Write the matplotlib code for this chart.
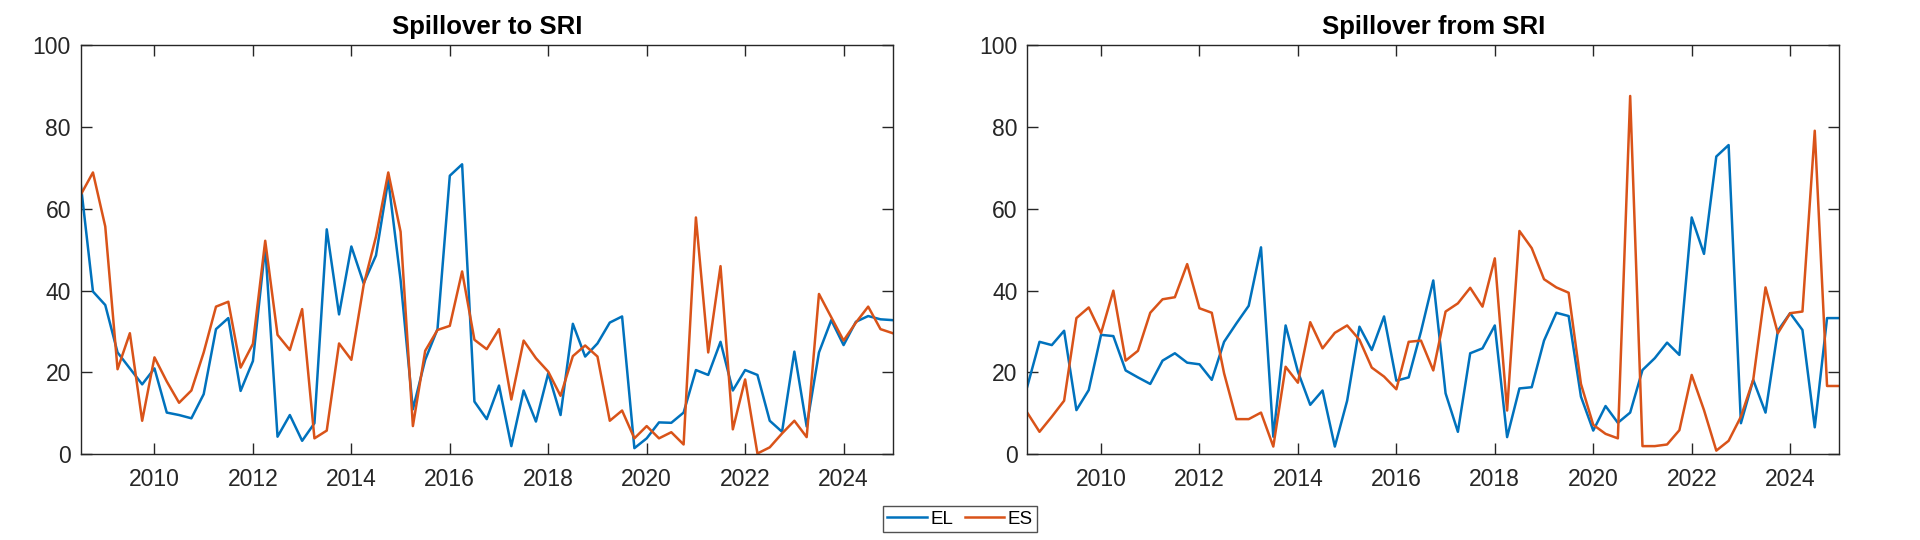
import numpy as np
import matplotlib
matplotlib.use('Agg')
import matplotlib.pyplot as plt

plt.rcParams['font.family'] = ['Liberation Sans', 'DejaVu Sans']

# quarterly observations, 2008Q3 .. 2025Q1
years = 2008.5 + 0.25 * np.arange(67)

# spillover to SRI
to_el = [66.3, 39.8, 36.5, 24.9, 21.0, 17.1, 21.0, 10.2, 9.6, 8.8,
         14.7, 30.6, 33.3, 15.5, 22.8, 50.8, 4.3, 9.6, 3.3, 7.6,
         55.0, 34.2, 50.8, 41.8, 48.6, 67.1, 42.6, 11.0, 23.1, 30.6,
         68.1, 70.9, 12.9, 8.6, 16.8, 2.0, 15.6, 8.0, 19.8, 9.6,
         31.9, 23.9, 27.1, 32.2, 33.7, 1.5, 3.9, 7.8, 7.7, 10.2,
         20.6, 19.4, 27.5, 15.6, 20.6, 19.4, 8.2, 5.5, 25.1, 6.8,
         24.9, 32.8, 26.7, 32.4, 33.8, 33.0, 32.8]
to_es = [63.4, 68.9, 55.7, 20.8, 29.6, 8.2, 23.7, 17.8, 12.6, 15.6,
         24.9, 36.1, 37.3, 21.2, 27.0, 52.2, 29.2, 25.5, 35.5, 3.9,
         5.8, 27.1, 23.1, 41.4, 53.2, 68.9, 54.4, 6.9, 25.3, 30.4,
         31.4, 44.7, 28.0, 25.7, 30.6, 13.4, 27.8, 23.5, 20.2, 14.3,
         24.0, 26.6, 23.9, 8.2, 10.7, 3.9, 6.9, 3.9, 5.4, 2.4,
         57.9, 24.9, 46.0, 6.1, 18.3, 0.2, 1.7, 5.1, 8.2, 4.2,
         39.2, 33.5, 27.8, 32.2, 36.1, 30.6, 29.6]

# spillover from SRI
from_el = [16.5, 27.5, 26.7, 30.2, 10.8, 15.7, 29.2, 28.9, 20.5, 18.8,
           17.2, 22.9, 24.7, 22.4, 22.0, 18.2, 27.5, 32.0, 36.3, 50.6,
           4.3, 31.5, 20.2, 12.1, 15.6, 1.9, 13.1, 31.2, 25.5, 33.7,
           18.0, 18.8, 30.0, 42.5, 14.9, 5.5, 24.7, 25.9, 31.5, 4.2,
           16.1, 16.4, 27.8, 34.6, 33.8, 14.1, 5.8, 11.8, 7.7, 10.2,
           20.6, 23.5, 27.3, 24.3, 57.9, 49.0, 72.8, 75.6, 7.6, 18.2,
           10.2, 30.2, 34.5, 30.4, 6.6, 33.3, 33.3]
from_es = [10.2, 5.5, 9.2, 13.1, 33.3, 35.9, 29.6, 40.0, 22.9, 25.3,
           34.6, 37.9, 38.4, 46.5, 35.7, 34.6, 19.8, 8.6, 8.6, 10.2,
           1.9, 21.4, 17.5, 32.3, 25.9, 29.7, 31.5, 28.0, 21.2, 19.0,
           15.9, 27.5, 27.8, 20.5, 34.9, 36.9, 40.7, 36.1, 47.9, 10.7,
           54.6, 50.4, 42.8, 40.8, 39.5, 17.2, 7.2, 5.0, 3.9, 87.6,
           2.0, 2.0, 2.4, 5.9, 19.4, 10.8, 0.9, 3.3, 9.2, 18.2,
           40.8, 29.6, 34.5, 34.9, 79.1, 16.7, 16.7]

titles = ['Spillover to SRI', 'Spillover from SRI']
series = [(to_el, to_es), (from_el, from_es)]
labels = ['EL', 'ES']
colors = ['#0072BD', '#D95319']
dark = '#262626'

fig = plt.figure(figsize=(19.2, 5.4), dpi=100)
ax1 = fig.add_axes([0.042, 0.1587, 0.423, 0.7575])
ax2 = fig.add_axes([0.535, 0.1587, 0.423, 0.7575])

for ax, title, (el, es) in zip((ax1, ax2), titles, series):
    ax.plot(years, el, color=colors[0], linewidth=1.8, label=labels[0])
    ax.plot(years, es, color=colors[1], linewidth=1.8, label=labels[1])
    ax.set_xlim(2008.5, 2025.0)
    ax.set_ylim(0, 100)
    ax.set_xticks([2010, 2012, 2014, 2016, 2018, 2020, 2022, 2024])
    ax.set_yticks([0, 20, 40, 60, 80, 100])
    ax.tick_params(direction='in', length=8, width=1, colors=dark,
                   labelsize=16.5, top=True, right=True)
    ax.tick_params(axis='x', pad=10)
    ax.tick_params(axis='y', pad=7)
    for sp in ax.spines.values():
        sp.set_color(dark)
        sp.set_linewidth(1)
    ax.set_title(title, fontsize=18.5, fontweight='bold', pad=8)

handles, labs = ax1.get_legend_handles_labels()
leg = fig.legend(handles, labs, loc='center', bbox_to_anchor=(0.5, 0.039),
                 ncol=2, fontsize=13.5, frameon=True, fancybox=False,
                 handlelength=2.1, handletextpad=0.2, columnspacing=0.6,
                 borderpad=0.25, borderaxespad=0)
leg.get_frame().set_edgecolor(dark)
leg.get_frame().set_linewidth(1)

plt.savefig('out.png', dpi=100)
plt.close()
